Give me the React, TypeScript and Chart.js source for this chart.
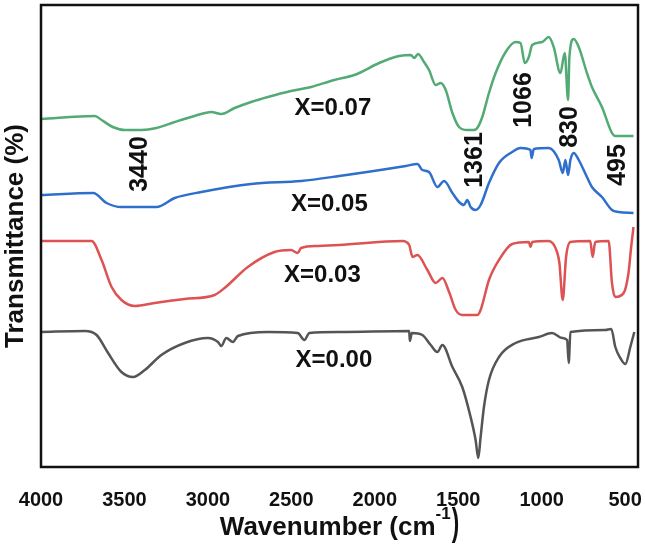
import React, { useEffect, useRef } from "react";
import { Chart, registerables } from "chart.js";

Chart.register(...registerables);

const FONT = "'Liberation Sans', Arial, Helvetica, sans-serif";

// x = 0.07 (green)
const greenWave = [4000,3677,3637,3570,3498,3398,3308,3199,3080,2980,2920,2840,2741,2641,2502,2382,2243,2123,2093,1974,1854,1784,1764,1741,1705,1675,1635,1605,1575,1535,1495,1446,1406,1386,1356,1316,1276,1216,1157,1127,1101,1077,1057,997,958,928,888,862,842,834,808,778,729,699,639,579,559,450];
const greenT = [348,351,347,340,337,337,339,345,351,355,353,359,365,370,376,380,387,392,394,404,411,412,409,413,405,397,382,384,377,354,340,337,337,339,350,374,394,415,425,424,404,410,422,425,430,420,394,414,367,410,428,420,394,380,360,334,331,331];

// x = 0.05 (blue)
const blueWave = [4000,3687,3607,3518,3378,3308,3199,3039,2741,2442,2213,1814,1745,1715,1675,1625,1585,1535,1495,1466,1446,1426,1396,1366,1316,1256,1177,1127,1067,1061,1047,958,898,874,858,842,828,808,778,729,699,639,579,539,450];
const blueT = [272,274,264,260,260,260,269,275,283,286,291,301,303,297,295,280,286,274,265,262,267,260,257,262,284,304,315,319,317,309,318,319,307,294,307,292,307,314,307,290,280,270,257,255,254];

// x = 0.03 (red)
const redWave = [4000,3697,3637,3577,3518,3438,3319,3139,2960,2900,2761,2601,2502,2462,2442,2342,2213,1834,1794,1774,1745,1685,1635,1595,1555,1515,1476,1386,1366,1316,1256,1177,1077,1067,1057,958,908,894,874,854,828,709,695,679,599,579,559,509,480,464,450];
const redT = [226,226,207,180,167,161,164,168,172,179,200,215,217,214,219,221,222,226,222,210,212,197,184,189,175,157,152,152,157,187,207,223,225,220,225,226,215,204,167,210,225,226,210,225,226,184,170,174,194,220,240];

// x = 0.00 (dark grey)
const blackWave = [4000,3737,3667,3598,3518,3448,3378,3279,3139,3000,2940,2920,2890,2850,2820,2641,2462,2422,2392,2213,1794,1790,1778,1715,1665,1625,1595,1535,1476,1426,1396,1380,1366,1346,1316,1256,1157,1017,938,878,848,838,828,619,583,559,529,499,469,445];
const blackT = [135,136,132,114,95,90,97,112,124,129,125,121,129,125,131,135,134,127,134,135,136,126,134,132,122,115,122,100,80,50,27,9,30,60,87,110,124,130,134,129,127,104,135,137,138,120,109,103,120,135];

const xTicks = [4000, 3500, 3000, 2500, 2000, 1500, 1000, 500];

const seriesLabels = ["X=0.07", "X=0.05", "X=0.03", "X=0.00"];
const seriesLabelWave = [2251, 2272, 2314, 2245];
const seriesLabelT = [359, 263, 192, 107];

const peakLabels = ["3440", "1361", "1066", "830", "495"];
const peakLabelWave = [3408, 1400, 1106, 827, 540];
const peakLabelT = [303, 307, 367, 340, 302];

const toPts = (w: number[], t: number[]) => w.map((x, i) => ({ x, y: t[i] }));

const annotPlugin = {
  id: "annot",
  afterDraw(chart: any) {
    const { ctx, chartArea, scales } = chart;
    const xs = scales.x;
    const ys = scales.y;
    ctx.save();
    ctx.strokeStyle = "#111";
    ctx.lineWidth = 2.5;
    ctx.strokeRect(chartArea.left, chartArea.top, chartArea.right - chartArea.left, chartArea.bottom - chartArea.top);
    ctx.fillStyle = "#111";
    ctx.font = `bold 24px ${FONT}`;
    ctx.textAlign = "center";
    ctx.textBaseline = "middle";
    seriesLabels.forEach((s, i) => {
      ctx.fillText(s, xs.getPixelForValue(seriesLabelWave[i]), ys.getPixelForValue(seriesLabelT[i]));
    });
    ctx.font = `bold 25px ${FONT}`;
    peakLabels.forEach((s, i) => {
      ctx.save();
      ctx.translate(xs.getPixelForValue(peakLabelWave[i]), ys.getPixelForValue(peakLabelT[i]));
      ctx.rotate(-Math.PI / 2);
      ctx.fillText(s, 0, 0);
      ctx.restore();
    });
    const main = "Wavenumber (cm";
    const sup = "-1";
    ctx.textAlign = "left";
    ctx.textBaseline = "alphabetic";
    ctx.font = `bold 26px ${FONT}`;
    const wMain = ctx.measureText(main).width;
    ctx.font = `bold 17px ${FONT}`;
    const wSup = ctx.measureText(sup).width;
    ctx.font = `bold 32px ${FONT}`;
    const wPar = ctx.measureText(")").width * 0.7;
    const total = wMain + wSup + 1 + wPar;
    const cx = (chartArea.left + chartArea.right) / 2;
    let x0 = cx - total / 2;
    const base = 535;
    ctx.font = `bold 26px ${FONT}`;
    ctx.fillText(main, x0, base);
    x0 += wMain;
    ctx.font = `bold 17px ${FONT}`;
    ctx.fillText(sup, x0, base - 16);
    x0 += wSup + 1;
    ctx.save();
    ctx.translate(x0, base);
    ctx.scale(0.7, 1.2);
    ctx.font = `bold 32px ${FONT}`;
    ctx.fillText(")", 0, 0);
    ctx.restore();
    ctx.restore();
  },
};

export default function App() {
  const ref = useRef<HTMLCanvasElement>(null);
  useEffect(() => {
    if (!ref.current) return;
    const mk = (label: string, w: number[], t: number[], color: string) => ({
      label,
      data: toPts(w, t),
      borderColor: color,
      backgroundColor: color,
      borderWidth: 2.5,
      pointRadius: 0,
      cubicInterpolationMode: "monotone",
    });
    const chart = new Chart(ref.current, {
      type: "line",
      data: {
        datasets: [
          mk(seriesLabels[0], greenWave, greenT, "#52aa74"),
          mk(seriesLabels[1], blueWave, blueT, "#2f6fcc"),
          mk(seriesLabels[2], redWave, redT, "#dd5252"),
          mk(seriesLabels[3], blackWave, blackT, "#555555"),
        ],
      },
      options: {
        responsive: false,
        animation: false,
        layout: { padding: { top: 5, right: 7, bottom: 0, left: 0 } },
        plugins: { legend: { display: false }, tooltip: { enabled: false } },
        scales: {
          x: {
            type: "linear",
            reverse: true,
            min: 423,
            max: 4000,
            grid: { display: false },
            border: { display: false },
            afterBuildTicks: (scale: any) => {
              scale.ticks = xTicks.map((v) => ({ value: v }));
            },
            afterFit: (scale: any) => {
              scale.height = 80;
              scale.paddingLeft = 0;
              scale.paddingRight = 0;
            },
            ticks: {
              autoSkip: false,
              maxRotation: 0,
              padding: 13,
              color: "#111",
              font: { family: FONT, size: 20, weight: "bold" },
              callback: (v: any) => String(v),
            },
          },
          y: {
            type: "linear",
            min: 0,
            max: 462,
            grid: { display: false },
            border: { display: false },
            ticks: { display: false },
            afterFit: (scale: any) => {
              scale.width = 41;
              scale.paddingTop = 0;
              scale.paddingBottom = 0;
            },
            title: {
              display: true,
              text: "Transmittance (%)",
              color: "#111",
              padding: 0,
              font: { family: FONT, size: 26, weight: "bold" },
            },
          },
        },
      },
      plugins: [annotPlugin],
    } as any);
    return () => chart.destroy();
  }, []);
  return (
    <div style={{ position: "fixed", left: 0, top: 0, width: 645, height: 547, background: "#fff" }}>
      <canvas ref={ref} width={645} height={547} style={{ display: "block" }} />
    </div>
  );
}
